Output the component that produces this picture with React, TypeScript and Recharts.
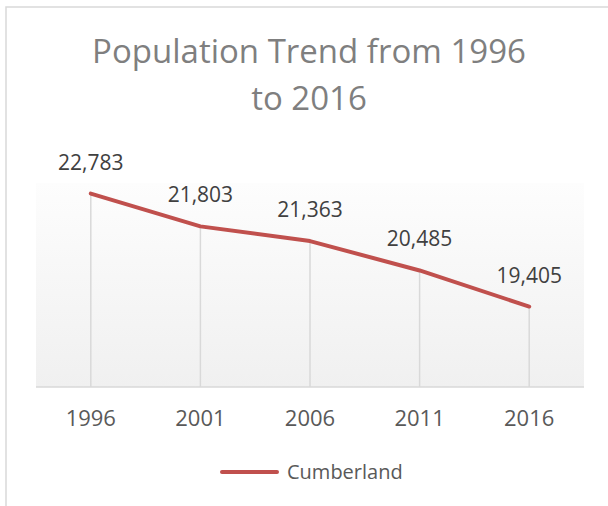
import React from 'react';
import { LineChart, Line, XAxis, YAxis, CartesianGrid, LabelList, ReferenceLine, Customized } from 'recharts';

const categories = ['1996', '2001', '2006', '2011', '2016'];
const cumberland = [22783, 21803, 21363, 20485, 19405];
const seriesName = 'Cumberland';
const titleLines = ['Population Trend from 1996', 'to 2016'];
const yDomain: [number, number] = [17000, 23100];

const data = categories.map((year, i) => ({ year, [seriesName]: cumberland[i] }));

const FONT = '"Open Sans", Lato, sans-serif';
const LINE_COLOR = '#C0504D';

const Decor = () => (
  <g>
    <rect x={6} y={7} width={700} height={600} fill="none" stroke="#d9d9d9" strokeWidth={1.5} />
    {titleLines.map((t, i) => (
      <text key={t} x={309} y={63 + i * 47} textAnchor="middle" fontFamily={FONT} fontSize={33} fill="#7f7f7f">
        {t}
      </text>
    ))}
    <line x1={222} y1={472} x2={277} y2={472} stroke={LINE_COLOR} strokeWidth={4} strokeLinecap="round" />
    <text x={287} y={478.5} fontFamily={FONT} fontSize={20} fill="#595959">
      {seriesName}
    </text>
  </g>
);

export default function App() {
  return (
    <div style={{ position: 'absolute', left: 0, top: 0, width: 608, height: 506, overflow: 'hidden', background: '#fff' }}>
      <LineChart width={608} height={506} data={data} margin={{ top: 183, right: 24, bottom: 89, left: 36 }}>
        <defs>
          <linearGradient id="plotBg" x1="0" y1="0" x2="0" y2="1">
            <stop offset="0%" stopColor="#fdfdfd" />
            <stop offset="100%" stopColor="#f0f0f0" />
          </linearGradient>
        </defs>
        <CartesianGrid horizontal={false} vertical={false} fill="url(#plotBg)" />
        <XAxis
          dataKey="year"
          height={30}
          padding={{ left: 54.8, right: 54.8 }}
          axisLine={{ stroke: '#d9d9d9', strokeWidth: 1.5 }}
          tickLine={false}
          tickSize={6}
          tickMargin={17}
          tick={{ fill: '#595959', fontSize: 22, fontFamily: FONT }}
          interval={0}
        />
        <YAxis hide domain={yDomain} />
        {categories.map((c, i) => (
          <ReferenceLine
            key={c}
            segment={[{ x: c, y: yDomain[0] }, { x: c, y: cumberland[i] }]}
            stroke="#d9d9d9"
            strokeWidth={1.5}
          />
        ))}
        <Line
          type="linear"
          dataKey={seriesName}
          stroke={LINE_COLOR}
          strokeWidth={4}
          strokeLinecap="round"
          strokeLinejoin="round"
          dot={false}
          activeDot={false}
          isAnimationActive={false}
        >
          <LabelList
            dataKey={seriesName}
            position="top"
            offset={24}
            formatter={(v: any) => Number(v).toLocaleString('en-US')}
            fill="#404040"
            fontSize={21}
            fontFamily={FONT}
          />
        </Line>
        <Customized component={Decor} />
      </LineChart>
    </div>
  );
}
